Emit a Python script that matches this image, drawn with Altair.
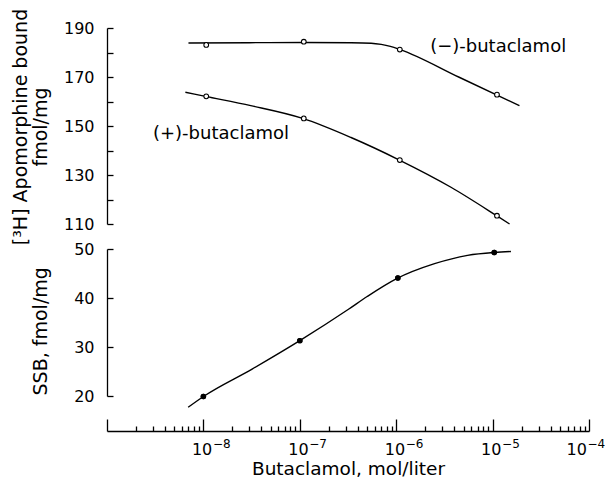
import altair as alt
import pandas as pd

FONT = "DejaVu Sans"

# ---------------- data ----------------
# (-)-butaclamol : open circles + fitted curve (top panel)
minus_pt_x = [1.07e-8, 1.1e-7, 1.09e-6, 1.11e-5]
minus_pt_y = [183.1, 184.4, 181.2, 162.8]
minus_curve_x = [7.0e-9, 3.0e-8, 1.1e-7, 3.4e-7, 5.5e-7, 7.0e-7, 8.7e-7, 1.1e-6, 4.5e-6, 1.9e-5]
minus_curve_y = [183.9, 184.0, 184.1, 184.0, 183.8, 183.3, 182.5, 181.2, 169.9, 158.3]

# (+)-butaclamol : open circles + fitted curve (top panel)
plus_pt_x = [1.07e-8, 1.1e-7, 1.09e-6, 1.11e-5]
plus_pt_y = [162.1, 153.1, 136.1, 113.4]
plus_curve_x = [6.5e-9, 1.05e-8, 3.1e-8, 1.07e-7, 3.4e-7, 1.08e-6, 3.7e-6, 1.1e-5, 1.5e-5]
plus_curve_y = [163.8, 162.1, 158.3, 153.1, 145.3, 136.1, 125.0, 113.4, 110.0]

# SSB : filled circles + fitted curve (bottom panel)
ssb_pt_x = [1.0e-8, 1.0e-7, 1.04e-6, 1.04e-5]
ssb_pt_y = [19.9, 31.3, 44.1, 49.3]
ssb_curve_x = [6.95e-9, 1.0e-8, 3.2e-8, 1.0e-7, 3.2e-7, 5.0e-7, 1.0e-6, 2.5e-6, 5.5e-6, 1.05e-5, 1.55e-5]
ssb_curve_y = [17.7, 19.9, 25.5, 31.3, 37.7, 40.3, 43.9, 47.0, 48.7, 49.3, 49.5]

# annotations
label_text = ["(\u2212)-butaclamol", "(+)-butaclamol"]
label_x = [2.25e-6, 3.0e-9]
label_y = [182.1, 146.6]

# axes
x_domain = [1e-9, 1e-4]
x_major_values = [1e-9, 1e-8, 1e-7, 1e-6, 1e-5, 1e-4]
x_label_base = ["", "10", "10", "10", "10", "10"]
x_label_exp = ["", "\u22128", "\u22127", "\u22126", "\u22125", "\u22124"]
x_minor_values = [m * d for d in [1e-9, 1e-8, 1e-7, 1e-6, 1e-5] for m in range(2, 10)]
top_y_ticks = [110, 120, 130, 140, 150, 160, 170, 180, 190]
top_y_labels = [110, 130, 150, 170, 190]
bottom_y_ticks = [20, 30, 40, 50]

top_title = ["[\u00b3H] Apomorphine bound", "fmol/mg"]
bottom_title = "SSB, fmol/mg"
x_title = "Butaclamol, mol/liter"

# ---------------- tables ----------------
top_curves = pd.DataFrame({
    "conc": minus_curve_x + plus_curve_x,
    "val": minus_curve_y + plus_curve_y,
    "series": ["minus"] * len(minus_curve_x) + ["plus"] * len(plus_curve_x),
})
top_points = pd.DataFrame({
    "conc": minus_pt_x + plus_pt_x,
    "val": minus_pt_y + plus_pt_y,
    "series": ["minus"] * len(minus_pt_x) + ["plus"] * len(plus_pt_x),
})
labels_df = pd.DataFrame({"conc": label_x, "val": label_y, "text": label_text})
ssb_curve = pd.DataFrame({"conc": ssb_curve_x, "val": ssb_curve_y})
ssb_points = pd.DataFrame({"conc": ssb_pt_x, "val": ssb_pt_y})


# ---------------- label expressions ----------------
def label_expr(values, labels):
    expr = "'%s'" % labels[-1]
    for v, lab in reversed(list(zip(values[:-1], labels[:-1]))):
        expr = "datum.value < %g ? '%s' : (%s)" % (v * 3.1623, lab, expr)
    return expr


W, H_TOP, H_BOT, X_OFF = 482, 196, 147, 35
LAST = "datum.value > 5e-5"  # the right-most label is pulled in to stay on the page

xscale = alt.Scale(type="log", domain=x_domain, nice=False)
top_yscale = alt.Scale(domain=[110, 190], nice=False, zero=False)
bot_yscale = alt.Scale(domain=[20, 50], nice=False, zero=False)

# y axes: labels + line on the left, inward ticks from a flipped (right) axis
top_y_label_axis = alt.Axis(
    orient="left", values=top_y_labels, ticks=False, labelPadding=13,
    title=top_title, titleAngle=270, titleAlign="center", titleBaseline="top",
    titleX=-95.6, titleY=98.5, titleLineHeight=20, titleFontSize=19,
    labelOverlap=False, labelFlush=False,
)
top_y_tick_axis = alt.Axis(
    orient="right", offset=-W, values=top_y_ticks, tickSize=6, labels=False,
    domain=False, title=None,
)
bot_y_label_axis = alt.Axis(
    orient="left", values=bottom_y_ticks, ticks=False, labelPadding=13,
    title=bottom_title, titleAngle=270, titleAlign="center", titleBaseline="top",
    titleX=-76, titleY=81.8, titleFontSize=19, labelOverlap=False, labelFlush=False,
)
bot_y_tick_axis = alt.Axis(
    orient="right", offset=-W, values=bottom_y_ticks, tickSize=6, labels=False,
    domain=False, title=None,
)
# x axes: "10" labels + line at the bottom; inward ticks (and the exponents)
# from flipped (top) axes placed on the same line
x_label_axis = alt.Axis(
    orient="bottom", offset=X_OFF, values=x_major_values,
    labelExpr=label_expr(x_major_values, x_label_base),
    ticks=False, labelPadding=10, labelAlign="left",
    labelOffset={"condition": {"test": LAST, "value": -23}, "value": -12},
    labelBaseline="top", labelFlush=False, labelOverlap=False,
    title=x_title, titleY=28.3, titleBaseline="top", titleFontSize=18.5,
)
x_major_tick_axis = alt.Axis(
    orient="top", offset=-(H_BOT + X_OFF), values=x_major_values, tickSize=12,
    labelExpr=label_expr(x_major_values, x_label_exp), labelFontSize=12,
    labelPadding=-19.8, labelBaseline="top", labelAlign="left",
    labelOffset={"condition": {"test": LAST, "value": -2}, "value": 9},
    labelFlush=False, labelOverlap=False, domain=False, title=None,
)
x_minor_tick_axis = alt.Axis(
    orient="top", offset=-(H_BOT + X_OFF), values=x_minor_values, tickSize=5,
    labels=False, domain=False, title=None,
)

# ---------------- top panel ----------------
t_lines = alt.Chart(top_curves).mark_line(
    color="black", strokeWidth=1.4, interpolate="monotone"
).encode(
    x=alt.X("conc:Q", scale=xscale, axis=None),
    y=alt.Y("val:Q", scale=top_yscale, axis=top_y_label_axis),
    detail="series:N",
)
t_points = alt.Chart(top_points).mark_circle(
    size=22, fill="white", stroke="black", strokeWidth=1.1, opacity=1
).encode(
    x=alt.X("conc:Q", scale=xscale, axis=None),
    y=alt.Y("val:Q", scale=top_yscale, axis=top_y_tick_axis),
)
t_text = alt.Chart(labels_df).mark_text(
    align="left", baseline="middle", font=FONT, fontSize=18, color="black"
).encode(
    x=alt.X("conc:Q", scale=xscale, axis=None),
    y=alt.Y("val:Q", scale=top_yscale, axis=None),
    text="text:N",
)
top = alt.layer(t_lines, t_points, t_text).resolve_axis(y="independent").properties(
    width=W, height=H_TOP
)

# ---------------- bottom panel ----------------
b_line = alt.Chart(ssb_curve).mark_line(
    color="black", strokeWidth=1.4, interpolate="monotone"
).encode(
    x=alt.X("conc:Q", scale=xscale, axis=x_label_axis),
    y=alt.Y("val:Q", scale=bot_yscale, axis=bot_y_label_axis),
)
b_points = alt.Chart(ssb_points).mark_circle(size=30, color="black", opacity=1).encode(
    x=alt.X("conc:Q", scale=xscale, axis=x_major_tick_axis),
    y=alt.Y("val:Q", scale=bot_yscale, axis=bot_y_tick_axis),
)
b_points2 = alt.Chart(ssb_points).mark_circle(size=30, color="black", opacity=1).encode(
    x=alt.X("conc:Q", scale=xscale, axis=x_minor_tick_axis),
    y=alt.Y("val:Q", scale=bot_yscale, axis=None),
)
bottom = alt.layer(b_line, b_points, b_points2).resolve_axis(
    x="independent", y="independent"
).properties(width=W, height=H_BOT)

chart = alt.vconcat(top, bottom, spacing=25, bounds="flush").properties(
    padding={"left": 3, "top": 0, "right": 0, "bottom": 0}
).configure_axis(
    domainColor="black", domainWidth=1.3, tickColor="black", tickWidth=1.3,
    labelColor="black", labelFont=FONT, labelFontSize=16, titleFont=FONT,
    titleColor="black", titleFontWeight="normal", grid=False,
).configure_view(stroke=None)

chart.save("out.html", embed_options={"renderer": "svg", "actions": False})
